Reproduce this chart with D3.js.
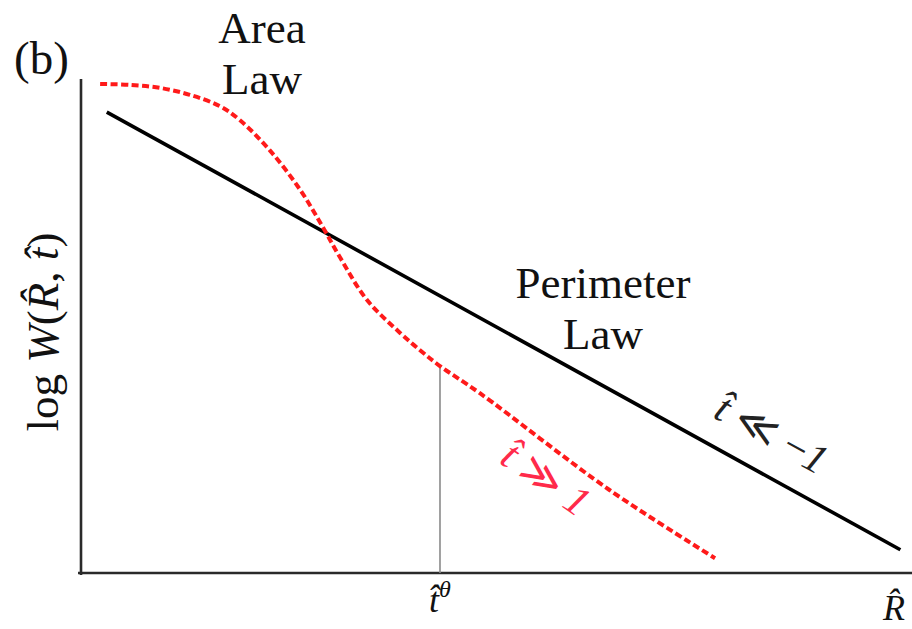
<!DOCTYPE html>
<html>
<head>
<meta charset="utf-8">
<script src="https://cdn.jsdelivr.net/npm/d3@7"></script>
<style>
  html, body { margin: 0; padding: 0; background: #fff; }
  svg { display: block; }
</style>
</head>
<body>
<svg id="chart" width="912" height="629"></svg>
<script>
// Schematic curves, in normalised axis units (0-100 on both axes)
const perimeterX = [3.1, 98.6];
const perimeterY = [93.3, 4.7];

const areaX = [2.3, 5.9, 9.5, 13.1, 16.7, 19.1, 22.7, 26.4, 29.1, 31.2, 34.4, 38.4, 40.8, 43.2, 48.0, 63.6, 76.3];
const areaY = [99.0, 98.8, 98.2, 96.8, 94.5, 91.7, 85.6, 77.5, 70.0, 63.8, 55.3, 48.6, 45.1, 41.9, 36.4, 16.8, 3.0];

// Crossover scale marked on the R axis
const crossX = 43.2;
const crossY = 41.9;

const SERIF = "'Liberation Serif'";

const svg = d3.select("#chart");
const x = d3.scaleLinear().domain([0, 100]).range([81, 912]);
const y = d3.scaleLinear().domain([0, 100]).range([573, 79]);

// Axes: plain lines without ticks
svg.append("g")
  .attr("transform", `translate(0,${y(0)})`)
  .call(d3.axisBottom(x).tickValues([]).tickSizeOuter(0))
  .call(g => g.select(".domain").attr("stroke", "#2a2a2a").attr("stroke-width", 2.6))
  .call(g => g.select(".domain").attr("d", `M${x(0) - 3},0H${x(100)}`));

svg.append("g")
  .attr("transform", `translate(${x(0)},0)`)
  .call(d3.axisLeft(y).tickValues([]).tickSizeOuter(0))
  .call(g => g.select(".domain").attr("stroke", "#2a2a2a").attr("stroke-width", 2.6))
  .call(g => g.select(".domain").attr("d", `M0,${y(0) + 2}V${y(100)}`));

// Vertical marker from the axis up to the area-law curve
svg.append("line")
  .attr("x1", x(crossX)).attr("x2", x(crossX))
  .attr("y1", y(0)).attr("y2", y(crossY))
  .attr("stroke", "#8a8a8a").attr("stroke-width", 1.6);

// Perimeter law: straight black line
const line = d3.line().x(d => x(d[0])).y(d => y(d[1]));
svg.append("path")
  .datum(d3.zip(perimeterX, perimeterY))
  .attr("d", line)
  .attr("fill", "none")
  .attr("stroke", "#000")
  .attr("stroke-width", 3.6);

// Area law: red dashed curve
svg.append("path")
  .datum(d3.zip(areaX, areaY))
  .attr("d", line.curve(d3.curveCatmullRom.alpha(0.5)))
  .attr("fill", "none")
  .attr("stroke", "#ff1a1a")
  .attr("stroke-width", 4)
  .attr("stroke-dasharray", "7,3.5");

function txt(sel) {
  return sel.append("text").style("font-family", SERIF);
}

// Panel tag
txt(svg).attr("x", 14).attr("y", 74)
  .attr("font-size", 47).attr("fill", "#111").text("(b)");

// Regime labels
function twoLine(cx, y0, l1, l2) {
  const t = txt(svg).attr("text-anchor", "middle")
    .attr("font-size", 45).attr("fill", "#111");
  t.append("tspan").attr("x", cx).attr("y", y0).text(l1);
  t.append("tspan").attr("x", cx).attr("y", y0 + 51).text(l2);
}
twoLine(262, 43, "Area", "Law");
twoLine(603, 298, "Perimeter", "Law");

// Y-axis label
const yl = txt(svg)
  .attr("transform", "translate(58,332) rotate(-90)")
  .attr("text-anchor", "middle")
  .attr("font-size", 45).attr("fill", "#111");
yl.append("tspan").text("log ");
yl.append("tspan").style("font-style", "italic").text("W");
yl.append("tspan").text("(");
yl.append("tspan").style("font-style", "italic").text("R\u0302");
yl.append("tspan").text(", ");
yl.append("tspan").style("font-style", "italic").text("t\u0302");
yl.append("tspan").text(")");

// Axis tick labels
const tl = txt(svg)
  .attr("x", x(crossX)).attr("y", 612)
  .attr("text-anchor", "middle")
  .attr("font-size", 36).attr("fill", "#111");
tl.append("tspan").style("font-style", "italic").text("t\u0302");
tl.append("tspan").style("font-style", "italic").attr("font-size", 24).attr("dy", -15).text("θ");

txt(svg)
  .attr("x", 883).attr("y", 620)
  .attr("font-size", 36).style("font-style", "italic").attr("fill", "#111")
  .text("R\u0302");

// Limit labels along the curves
const redAngle = Math.atan2(y(areaY[16]) - y(crossY), x(areaX[16]) - x(crossX)) * 180 / Math.PI;
const redLbl = txt(svg)
  .attr("transform", `translate(538,490) rotate(${redAngle})`)
  .attr("text-anchor", "middle")
  .attr("font-size", 42).attr("fill", "#ff2a4a");
redLbl.append("tspan").style("font-style", "italic").text("t\u0302");
redLbl.append("tspan").text(" ≫ ");
redLbl.append("tspan").style("font-style", "italic").text("1");

const blkAngle = Math.atan2(y(perimeterY[1]) - y(perimeterY[0]), x(perimeterX[1]) - x(perimeterX[0])) * 180 / Math.PI;
const blkLbl = txt(svg)
  .attr("transform", `translate(765,446) rotate(${blkAngle})`)
  .attr("text-anchor", "middle")
  .attr("font-size", 42).attr("fill", "#222");
blkLbl.append("tspan").style("font-style", "italic").text("t\u0302");
blkLbl.append("tspan").text(" ≪ −");
blkLbl.append("tspan").style("font-style", "italic").text("1");
</script>
</body>
</html>
